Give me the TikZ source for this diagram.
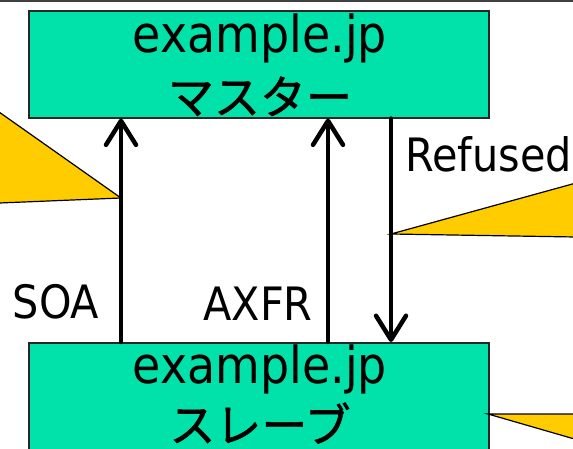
\documentclass[tikz,border=0pt]{standalone}
\usepackage{fontspec}
\setmainfont{DejaVu Sans}[FakeStretch=0.9]
\newfontfamily\jafont{Noto Sans CJK JP}[FakeBold=1.2]
\usetikzlibrary{arrows.meta}
\definecolor{hostgreen}{RGB}{0,226,170}
\definecolor{calloutyellow}{RGB}{255,204,0}
\begin{document}
\begin{tikzpicture}[x=1pt,y=-1pt,
  hostbox/.style={draw=black!85,line width=1.6pt,fill=hostgreen,
    minimum width=460pt,anchor=north west,inner sep=0pt},
  hostname/.style={anchor=base,inner sep=0pt,font=\fontsize{51}{51}\selectfont},
  hostrole/.style={anchor=base,inner sep=0pt,font=\jafont\fontsize{46}{46}\selectfont},
  msglabel/.style={anchor=base,inner sep=0pt,font=\fontsize{46}{46}\selectfont},
  flow/.style={line width=4.5pt,line cap=round,
    -{Straight Barb[length=24pt,width=30pt,line join=round,line cap=round]}},
  pointer/.style={fill=calloutyellow,draw=black,line width=1.2pt,line join=miter}]
\clip (0,0) rectangle (573,449);
\fill[white] (0,0) rectangle (573,449);
\draw[line width=2.2pt,black!75] (0,1.3) -- (573,1.3);

% servers
\node[hostbox,minimum height=107pt] (master) at (28,10) {};
\node[hostbox,minimum height=115pt] (slave) at (28,342) {};
\node[hostname] (mname) at (260,53) {example.jp};
\node[hostrole] (mrole) at (260,114) {マスター};
\node[hostname] (sname) at (260,383) {example.jp};
\node[hostrole] (srole) at (260,442) {スレーブ};

% columns of the three transfers
\coordinate (soaX) at (121,0);
\coordinate (axfrX) at (328,0);
\coordinate (refX) at (391,0);

% callout pointers
\coordinate (soaTip) at (121,198);
\coordinate (refTip) at (391,234);
\coordinate (slaveTip) at (488,414);
\filldraw[pointer] (-20,98.6) -- (soaTip) -- (-20,203.8) -- cycle;
\filldraw[pointer] (refTip) -- (600,176.4) -- (600,237.4) -- cycle;
\filldraw[pointer] (slaveTip) -- (600,414) -- (600,446.4) -- cycle;

% transfers
\draw[flow] (slave.north -| soaX) -- (master.south -| soaX);
\draw[flow] (slave.north -| axfrX) -- (master.south -| axfrX);
\draw[flow] (master.south -| refX) -- (slave.north -| refX);

\node[msglabel] (soa) at (56,318) {SOA};
\node[msglabel] (axfr) at (258,320) {AXFR};
\node[msglabel,anchor=base west] (refused) at (405,172) {Refused};
\end{tikzpicture}
\end{document}
